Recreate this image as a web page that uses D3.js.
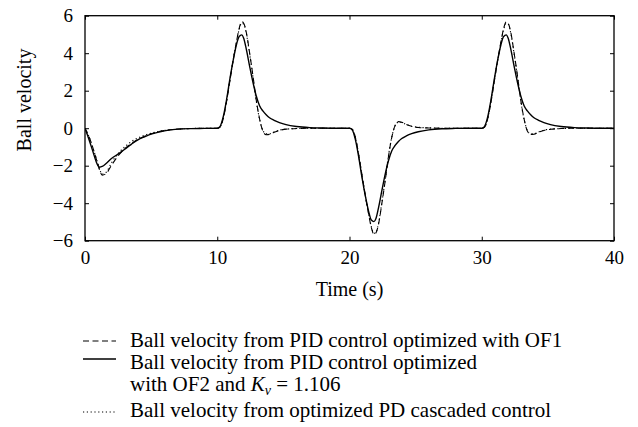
<!DOCTYPE html>
<html>
<head>
<meta charset="utf-8">
<script src="https://cdn.jsdelivr.net/npm/d3@7"></script>
<style>
  html, body { margin: 0; padding: 0; background: #fff; }
  svg { display: block; font-family: 'Liberation Serif', 'Times New Roman', serif; }
</style>
</head>
<body>
<svg id="chart" width="638" height="427"></svg>
<script>
// Sample times (s)
const time = [
  0, 0.3, 0.6, 0.9, 1.1, 1.3, 1.6, 2.0, 2.5, 3.0, 3.5, 4.0, 4.5, 5.0, 5.5, 6.0, 7.0, 8.0, 9.0, 10.0,
  10.2, 10.45, 10.7, 10.95, 11.2, 11.45, 11.65, 11.85, 12.0, 12.2, 12.45, 12.7, 12.95, 13.2, 13.45, 13.7, 13.95, 14.3, 14.7, 15.2, 16.0, 17.0, 18.0, 19.0, 20.0,
  20.2, 20.45, 20.7, 20.95, 21.2, 21.45, 21.65, 21.85, 22.0, 22.2, 22.45, 22.7, 22.95, 23.2, 23.45, 23.7, 23.95, 24.3, 24.7, 25.2, 26.0, 27.0, 28.0, 29.0, 30.0,
  30.2, 30.45, 30.7, 30.95, 31.2, 31.45, 31.65, 31.85, 32.0, 32.2, 32.45, 32.7, 32.95, 33.2, 33.45, 33.7, 33.95, 34.3, 34.7, 35.2, 36.0, 37.0, 38.0, 39.0, 40.0
];

// Ball velocity, PID optimized with OF1 (dashed)
const velOF1 = [
  0, -0.45, -1.05, -1.75, -2.22, -2.5, -2.42, -1.98, -1.48, -1.1, -0.82, -0.6, -0.43, -0.3, -0.2, -0.13, -0.05, -0.02, -0.01, 0,
  0.05, 0.5, 1.4, 2.5, 3.6, 4.6, 5.3, 5.68, 5.6, 5.1, 4.0, 2.8, 1.5, 0.5, -0.15, -0.35, -0.33, -0.22, -0.12, -0.05, -0.02, 0, 0, 0, 0,
  -0.05, -0.5, -1.42, -2.52, -3.6, -4.6, -5.3, -5.66, -5.58, -5.1, -4.0, -2.8, -1.5, -0.48, 0.15, 0.35, 0.32, 0.2, 0.1, 0.04, 0.01, 0, 0, 0, 0,
  0.05, 0.5, 1.4, 2.5, 3.6, 4.6, 5.3, 5.68, 5.6, 5.1, 4.0, 2.8, 1.5, 0.5, -0.15, -0.33, -0.32, -0.22, -0.12, -0.06, -0.02, 0, 0, 0, 0
];

// Ball velocity, PID optimized with OF2 and Kv = 1.106 (solid)
const velOF2 = [
  0, -0.6, -1.25, -1.88, -2.08, -2.04, -1.88, -1.62, -1.38, -1.12, -0.86, -0.62, -0.46, -0.32, -0.22, -0.14, -0.05, -0.02, -0.01, 0,
  0.08, 0.6, 1.5, 2.6, 3.6, 4.45, 4.88, 4.98, 4.8, 4.2, 3.3, 2.45, 1.72, 1.2, 0.92, 0.72, 0.56, 0.42, 0.3, 0.19, 0.09, 0.03, 0.01, 0, 0,
  -0.08, -0.62, -1.55, -2.65, -3.62, -4.45, -4.9, -4.98, -4.82, -4.22, -3.32, -2.45, -1.72, -1.2, -0.92, -0.71, -0.55, -0.41, -0.29, -0.19, -0.09, -0.03, -0.01, 0, 0,
  0.08, 0.6, 1.52, 2.62, 3.62, 4.45, 4.88, 4.98, 4.8, 4.2, 3.3, 2.45, 1.72, 1.2, 0.92, 0.72, 0.56, 0.42, 0.3, 0.19, 0.09, 0.03, 0.01, 0, 0
];

// Ball velocity, optimized PD cascaded control (dotted)
const velPD = [
  0, -0.45, -1.05, -1.72, -2.18, -2.45, -2.35, -1.85, -1.35, -1.0, -0.72, -0.52, -0.38, -0.27, -0.18, -0.12, -0.05, -0.02, 0, 0,
  0.05, 0.52, 1.42, 2.55, 3.62, 4.58, 5.25, 5.6, 5.55, 5.05, 3.95, 2.75, 1.45, 0.48, -0.12, -0.3, -0.3, -0.2, -0.1, -0.05, -0.02, 0, 0, 0, 0,
  -0.05, -0.52, -1.45, -2.55, -3.62, -4.58, -5.25, -5.6, -5.55, -5.05, -3.95, -2.75, -1.45, -0.46, 0.13, 0.32, 0.3, 0.2, 0.1, 0.05, 0.02, 0, 0, 0, 0,
  0.05, 0.52, 1.42, 2.55, 3.62, 4.58, 5.25, 5.6, 5.55, 5.05, 3.95, 2.75, 1.45, 0.48, -0.12, -0.3, -0.3, -0.2, -0.1, -0.05, -0.02, 0, 0, 0, 0
];

const xTicks = [0, 10, 20, 30, 40];
const yTicks = [-6, -4, -2, 0, 2, 4, 6];
const xLabel = "Time (s)";
const yLabel = "Ball velocity";

const svg = d3.select("#chart");
const plot = { left: 85, right: 614, top: 15.7, bottom: 240.7 };

const x = d3.scaleLinear().domain([0, 40]).range([plot.left, plot.right]);
const y = d3.scaleLinear().domain([-6, 6]).range([plot.bottom, plot.top]);

const fmt = v => (v < 0 ? "\u2212" + Math.abs(v) : String(v));

// Clip so curves stay inside the frame
svg.append("defs").append("clipPath").attr("id", "plotClip")
  .append("rect")
  .attr("x", plot.left).attr("y", plot.top)
  .attr("width", plot.right - plot.left).attr("height", plot.bottom - plot.top);

const tickLen = 4;
const axisStyle = g => {
  g.select(".domain").remove();
  g.selectAll(".tick line").attr("stroke", "#000").attr("stroke-width", 1);
  g.selectAll(".tick text").attr("fill", "#000").attr("font-size", 19)
    .attr("font-family", "'Liberation Serif', 'Times New Roman', serif");
};

// Bottom axis with inward ticks
svg.append("g")
  .attr("transform", `translate(0,${plot.bottom})`)
  .call(d3.axisBottom(x).tickValues(xTicks).tickSize(-tickLen).tickPadding(10).tickFormat(fmt))
  .call(axisStyle);

// Top axis: ticks only
svg.append("g")
  .attr("transform", `translate(0,${plot.top})`)
  .call(d3.axisTop(x).tickValues(xTicks).tickSize(-tickLen).tickFormat(""))
  .call(axisStyle);

// Left axis
svg.append("g")
  .attr("transform", `translate(${plot.left},0)`)
  .call(d3.axisLeft(y).tickValues(yTicks).tickSize(-tickLen).tickPadding(12).tickFormat(fmt))
  .call(axisStyle);

// Right axis: ticks only
svg.append("g")
  .attr("transform", `translate(${plot.right},0)`)
  .call(d3.axisRight(y).tickValues(yTicks).tickSize(-tickLen).tickFormat(""))
  .call(axisStyle);

// Frame
svg.append("rect")
  .attr("x", plot.left).attr("y", plot.top)
  .attr("width", plot.right - plot.left).attr("height", plot.bottom - plot.top)
  .attr("fill", "none").attr("stroke", "#000").attr("stroke-width", 1.3);

// Axis titles
svg.append("text")
  .attr("x", (plot.left + plot.right) / 2).attr("y", 296)
  .attr("text-anchor", "middle").attr("font-size", 20)
  .text(xLabel);

svg.append("text")
  .attr("transform", "translate(31,100) rotate(-90)")
  .attr("text-anchor", "middle").attr("font-size", 20)
  .text(yLabel);

// Series
const series = [
  { values: velOF1, dash: "6,3.5", width: 1.1 },
  { values: velOF2, dash: null, width: 1.4 },
  { values: velPD, dash: "1.2,2.6", width: 1.1 }
];

const line = d3.line()
  .x(d => x(d[0]))
  .y(d => y(d[1]))
  .curve(d3.curveMonotoneX);

const curves = svg.append("g").attr("clip-path", "url(#plotClip)");
series.forEach(s => {
  curves.append("path")
    .datum(time.map((t, i) => [t, s.values[i]]))
    .attr("d", line)
    .attr("fill", "none")
    .attr("stroke", "#000")
    .attr("stroke-width", s.width)
    .attr("stroke-dasharray", s.dash);
});

// Legend
const legend = svg.append("g").attr("font-size", 21);
const sampleX = [83, 116];
const textX = 130;

const legendItems = [
  { sampleY: 341, style: series[0] },
  { sampleY: 359, style: series[1] },
  { sampleY: 412, style: series[2] }
];
legendItems.forEach(item => {
  legend.append("line")
    .attr("x1", sampleX[0]).attr("x2", sampleX[1])
    .attr("y1", item.sampleY).attr("y2", item.sampleY)
    .attr("stroke", "#000")
    .attr("stroke-width", item.style.width)
    .attr("stroke-dasharray", item.style.dash);
});

legend.append("text").attr("x", textX).attr("y", 347)
  .text("Ball velocity from PID control optimized with OF1");
legend.append("text").attr("x", textX).attr("y", 369)
  .text("Ball velocity from PID control optimized");
const kLine = legend.append("text").attr("x", textX).attr("y", 391);
kLine.append("tspan").text("with OF2 and ");
kLine.append("tspan").attr("font-style", "italic").text("K");
kLine.append("tspan").attr("font-style", "italic").attr("font-size", 14)
  .attr("dy", 4).text("v");
kLine.append("tspan").attr("dy", -4).text(" = 1.106");
legend.append("text").attr("x", textX).attr("y", 417)
  .text("Ball velocity from optimized PD cascaded control");
</script>
</body>
</html>
